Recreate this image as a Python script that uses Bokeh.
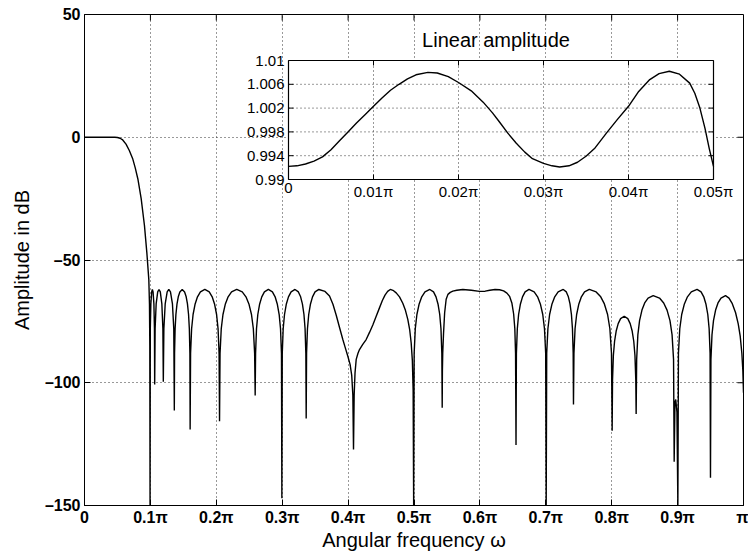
import math
from bokeh.plotting import figure
from bokeh.models import Range1d, FixedTicker, CustomJSTickFormatter
from bokeh.core.properties import value
from bokeh.embed import file_html
from bokeh.resources import INLINE

# ---------------- data: main magnitude response (frequency in units of pi, dB)
freq = [0.0, 0.02, 0.04, 0.046, 0.05, 0.054, 0.058, 0.063, 0.068, 0.0733, 0.077, 0.081, 0.086,
        0.091, 0.0946, 0.0976, 0.0986, 0.0991, 0.0995,
        # lobes near the band edge
        0.09985, 0.10069, 0.10195, 0.1030, 0.10405, 0.10531, 0.10615, 0.1065,
        0.10716, 0.10873, 0.11109, 0.11305, 0.11502, 0.11738, 0.11895, 0.1196,
        0.12044, 0.12244, 0.12545, 0.12795, 0.13046, 0.13346, 0.13547, 0.1363,
        0.13666, 0.1375, 0.1387, 0.14038, 0.1423, 0.1447, 0.1483,
        0.1519, 0.1543, 0.15622, 0.1579, 0.1591, 0.15994, 0.1603,
        0.16097, 0.16253, 0.16476, 0.16788, 0.17145, 0.17591, 0.1826,
        0.18929, 0.19375, 0.19732, 0.20044, 0.20267, 0.20423, 0.2049,
        0.20568, 0.20751, 0.21012, 0.21377, 0.21795, 0.22317, 0.2310,
        0.2394, 0.2450, 0.24948, 0.2534, 0.2562, 0.25816, 0.2590,
        0.2596, 0.2610, 0.2630, 0.2658, 0.2690, 0.2730, 0.2790,
        0.28515, 0.28925, 0.2925, 0.2954, 0.29745, 0.29889, 0.2995,
        0.3001, 0.3015, 0.3035, 0.3063, 0.3095, 0.3135, 0.3195,
        0.32457, 0.32795, 0.33065, 0.33302, 0.33471, 0.33589, 0.3364,
        0.33698, 0.33832, 0.34024, 0.34293, 0.3460, 0.34984, 0.3556,
        0.3650, 0.3718, 0.3770, 0.3820, 0.3870, 0.3920, 0.3960, 0.3996, 0.4030, 0.4055,
        0.4072, 0.4082,
        0.4092, 0.4105, 0.4123, 0.4150, 0.4173, 0.4220, 0.4274, 0.4325, 0.4375, 0.4425,
        0.4476, 0.4520, 0.4560, 0.4600, 0.4640, 0.4690, 0.4730, 0.4780, 0.4830, 0.4870,
        0.4906, 0.4935, 0.4957, 0.4975, 0.4987, 0.4995,
        0.50024, 0.50195, 0.5044, 0.50783, 0.51175, 0.51665, 0.5240,
        0.52964, 0.5334, 0.53641, 0.53904, 0.54092, 0.54224, 0.5428,
        0.5431, 0.5436, 0.5448, 0.5465, 0.5488, 0.5515, 0.5550, 0.5589, 0.5650, 0.5741,
        0.5870, 0.5994, 0.6080, 0.6150, 0.6230, 0.6298, 0.6360, 0.6410, 0.6450, 0.6485,
        0.6512, 0.6530, 0.6541, 0.6548,
        0.65539, 0.65677, 0.65874, 0.6615, 0.66465, 0.66859, 0.6745,
        0.68233, 0.68755, 0.69173, 0.69538, 0.69799, 0.69982, 0.7006,
        0.70138, 0.70319, 0.70578, 0.70941, 0.71355, 0.71873, 0.7265,
        0.73115, 0.73425, 0.73673, 0.7389, 0.74045, 0.74154, 0.7420,
        0.74272, 0.7444, 0.7468, 0.75016, 0.7540, 0.7588, 0.7660,
        0.77641, 0.78335, 0.7889, 0.79376, 0.79723, 0.79966, 0.8007,
        0.80125, 0.80253, 0.80436, 0.80692, 0.80985, 0.81351, 0.8190,
        0.82443, 0.82805, 0.83095, 0.83348, 0.83529, 0.83656, 0.8371,
        0.83788, 0.83969, 0.84228, 0.84591, 0.85005, 0.85523, 0.8630,
        0.87254, 0.8789, 0.88399, 0.88844, 0.89162, 0.89385, 0.8948,
        0.8960, 0.8972, 0.8990, 0.9004,
        0.90127, 0.90331, 0.90622, 0.91029, 0.91495, 0.92077, 0.9295,
        0.93562, 0.9397, 0.94296, 0.94582, 0.94786, 0.94929, 0.9499,
        0.95058, 0.95218, 0.95446, 0.95765, 0.9613, 0.96586, 0.9727,
        0.9780, 0.9830, 0.9880, 0.9920, 0.9950, 0.9975, 0.9990, 1.0]
amp_db = [0.0, 0.0, 0.0, 0.0, -0.1, -0.4, -1.1, -2.8, -5.4, -8.9, -12.5, -17, -25,
          -36, -47, -58, -68, -85, -150,
          -78, -67.9, -63, -62, -63, -67.9, -78, -100.7,
          -78, -67.9, -63, -62, -63, -67.9, -78, -99.6,
          -78, -67.9, -63, -62, -63, -67.9, -78, -111.3,
          -88, -78, -72.2, -67.9, -65, -63, -62,
          -63, -65, -67.9, -72.2, -78, -88, -119.0,
          -88, -78, -72.2, -67.9, -65, -63, -62,
          -63, -65, -67.9, -72.2, -78, -88, -115.7,
          -88, -78, -72.2, -67.9, -65, -63, -62,
          -63, -65, -67.9, -72.2, -78, -88, -105.2,
          -88, -78, -72.2, -67.9, -65, -63, -62,
          -63, -65, -67.9, -72.2, -78, -88, -147,
          -88, -78, -72.2, -67.9, -65, -63, -62,
          -63, -65, -67.9, -72.2, -78, -88, -114.6,
          -88, -78, -72.2, -67.9, -65, -63, -62,
          -62.8, -64.7, -68, -72.5, -77.5, -82.4, -86, -89.2, -92.5, -97,
          -105, -127.2,
          -105, -96, -90.5, -88, -86.5, -84.5, -82.4, -79.5, -76.5, -73,
          -69.5, -66.5, -64.3, -62.8, -62, -62.5, -63.4, -65, -67.6, -70.5,
          -74.2, -78.5, -83.7, -91, -103, -150,
          -88, -78, -72.2, -67.9, -65, -63, -62,
          -63, -65, -67.9, -72.2, -78, -88, -110.2,
          -95, -88, -80, -71.5, -66, -64, -63.2, -62.7, -62.3, -62,
          -62.3, -62.8, -62.7, -62.3, -62.0, -62.1, -62.6, -63.5, -64.8, -67.5,
          -72, -78, -88, -125.4,
          -88, -78, -72.2, -67.9, -65, -63, -62,
          -63, -65, -67.9, -72.2, -78, -88, -150,
          -88, -78, -72.2, -67.9, -65, -63, -62,
          -63, -65, -67.9, -72.2, -78, -88, -108.9,
          -88, -78, -72.2, -67.9, -65, -63, -62,
          -63, -65, -67.9, -72.2, -78, -88, -119.5,
          -98.9, -88.9, -83.1, -78.8, -75.9, -73.9, -72.9,
          -73.9, -75.9, -78.8, -83.1, -88.9, -98.9, -112.7,
          -90.5, -80.5, -74.7, -70.4, -67.5, -65.5, -64.5,
          -65.5, -67.5, -70.4, -74.7, -80.5, -90.5, -132.2,
          -108, -106.8, -112, -150,
          -88, -78, -72.2, -67.9, -65, -63, -62,
          -63, -65, -67.9, -72.2, -78, -88, -138.7,
          -90.5, -80.5, -74.7, -70.4, -67.5, -65.5, -64.5,
          -65.5, -67.8, -71.5, -76, -81, -88, -95, -104.1]

# ---------------- data: passband detail (linear amplitude)
pass_freq = [0.000, 0.001, 0.002, 0.003, 0.004, 0.005, 0.006, 0.007, 0.008, 0.009,
             0.010, 0.011, 0.012, 0.013, 0.014, 0.015, 0.0164, 0.0175, 0.0188, 0.0200,
             0.0215, 0.0229, 0.0240, 0.0248, 0.0258, 0.0268, 0.0278, 0.0287, 0.0300, 0.0310,
             0.0319, 0.0330, 0.0340, 0.0350, 0.0360, 0.0374, 0.0387, 0.0400, 0.0412, 0.0425,
             0.0436, 0.0448, 0.0460, 0.0472, 0.0478, 0.0484, 0.0490, 0.0495, 0.0500]
pass_amp = [0.9922, 0.9923, 0.9926, 0.9931, 0.9938, 0.9950, 0.9965, 0.9980, 0.9995, 1.0009,
            1.0023, 1.0037, 1.0050, 1.0060, 1.0069, 1.0076, 1.0080, 1.0079, 1.0073, 1.0063,
            1.0049, 1.0030, 1.0012, 0.9997, 0.9978, 0.9961, 0.9946, 0.9935, 0.9927, 0.9923,
            0.9921, 0.9923, 0.9929, 0.9939, 0.9952, 0.9978, 1.0001, 1.0023, 1.0048, 1.0068,
            1.0078, 1.0082, 1.0077, 1.0062, 1.0045, 1.0020, 0.9986, 0.9952, 0.9922]

# ---------------- ticks and labels
x_ticks = [0, 0.1, 0.2, 0.3, 0.4, 0.5, 0.6, 0.7, 0.8, 0.9, 1.0]
x_tick_labels = ["0", "0.1π", "0.2π", "0.3π", "0.4π", "0.5π", "0.6π", "0.7π", "0.8π", "0.9π", "π"]
y_ticks = [-150, -100, -50, 0, 50]
y_tick_labels = ["–150", "–100", "–50", "0", "50"]
ix_ticks = [0, 0.01, 0.02, 0.03, 0.04, 0.05]
ix_tick_labels = ["0", "0.01π", "0.02π", "0.03π", "0.04π", "0.05π"]
iy_ticks = [0.99, 0.994, 0.998, 1.002, 1.006, 1.01]
iy_tick_labels = ["0.99", "0.994", "0.998", "1.002", "1.006", "1.01"]

# ---------------- layout constants (figure pixels)
FONT = "Liberation Sans"
W, H = 748, 557
BL, BR, BT = 84, 5, 14
FRAME_W, FRAME_H = 659, 491
BB = H - BT - FRAME_H
FL, FR, FT, FB = BL, BL + FRAME_W, BT, BT + FRAME_H
IL, IR, IT, IB = 288, 713, 60, 179                            # inset box

X0, X1 = 0.0, 1.0
Y0, Y1 = -150.0, 50.0
p = figure(width=W, height=H, output_backend="svg", toolbar_location=None,
           x_range=Range1d(X0, X1), y_range=Range1d(Y0, Y1),
           min_border_left=BL, min_border_right=BR, min_border_top=BT, min_border_bottom=BB)
p.background_fill_color = "white"
p.border_fill_color = "white"
p.outline_line_color = "black"
p.outline_line_alpha = 1.0
p.outline_line_width = 1

JS = "const i = tk.findIndex(t => Math.abs(t - tick) < 1e-9); return i >= 0 ? lb[i] : '';"
fmt_x = CustomJSTickFormatter(args=dict(tk=x_ticks, lb=x_tick_labels), code=JS)
fmt_y = CustomJSTickFormatter(args=dict(tk=y_ticks, lb=y_tick_labels), code=JS)

for ax, tks, fm in ((p.xaxis[0], x_ticks, fmt_x), (p.yaxis[0], y_ticks, fmt_y)):
    ax.ticker = FixedTicker(ticks=tks)
    ax.formatter = fm
    ax.major_tick_in = 6
    ax.major_tick_out = 0
    ax.minor_tick_in = 0
    ax.minor_tick_out = 0
    ax.axis_line_color = "black"
    ax.major_tick_line_color = "black"
    ax.major_label_text_font = FONT
    ax.major_label_text_font_size = "16px"
    ax.major_label_text_font_style = "bold"
    ax.major_label_text_color = "black"
    ax.axis_label_text_font = FONT
    ax.axis_label_text_font_size = "20px"
    ax.axis_label_text_font_style = "normal"
    ax.axis_label_text_color = "black"

p.xaxis.axis_label = "Angular frequency ω"
p.yaxis.axis_label = "Amplitude in dB"
p.xaxis.major_label_standoff = 3
p.xaxis.axis_label_standoff = 0
p.yaxis.major_label_standoff = 4
p.yaxis.axis_label_standoff = 9

p.xgrid.ticker = FixedTicker(ticks=x_ticks)
p.ygrid.ticker = FixedTicker(ticks=y_ticks)
for g in (p.xgrid[0], p.ygrid[0]):
    g.grid_line_color = "#333333"
    g.grid_line_dash = "1 3"
    g.grid_line_width = 1

# ticks on top and right edges of the main box
p.ray(x=x_ticks[1:-1], y=[Y1] * (len(x_ticks) - 2), length=6, length_units="screen",
      angle=-math.pi / 2, line_color="black", line_width=1)
p.ray(x=[X1] * (len(y_ticks) - 2), y=y_ticks[1:-1], length=6, length_units="screen",
      angle=math.pi, line_color="black", line_width=1)

p.line(freq, amp_db, line_color="black", line_width=1.4)

# ---------------- inset drawn on extra ranges mapped onto the inset box
ix0, ix1 = 0.0, 0.05
iy0, iy1 = 0.99, 1.01
sx = (ix1 - ix0) / (IR - IL)
sy = (iy1 - iy0) / (IB - IT)
p.extra_x_ranges = {"ix": Range1d(ix0 - (IL - FL) * sx, ix1 + (FR - IR) * sx)}
p.extra_y_ranges = {"iy": Range1d(iy0 - (FB - IB) * sy, iy1 + (IT - FT) * sy)}
R = dict(x_range_name="ix", y_range_name="iy")

p.quad(left=[ix0], right=[ix1], bottom=[iy0], top=[iy1], fill_color="white",
       line_color=None, **R)
p.segment(x0=ix_ticks[1:-1], y0=[iy0] * 4, x1=ix_ticks[1:-1], y1=[iy1] * 4,
          line_color="#333333", line_dash="1 3", line_width=1, **R)
p.segment(x0=[ix0] * 4, y0=iy_ticks[1:-1], x1=[ix1] * 4, y1=iy_ticks[1:-1],
          line_color="#333333", line_dash="1 3", line_width=1, **R)
p.ray(x=ix_ticks[1:-1], y=[iy0] * 4, length=5, length_units="screen", angle=math.pi / 2,
      line_color="black", **R)
p.ray(x=ix_ticks[1:-1], y=[iy1] * 4, length=5, length_units="screen", angle=-math.pi / 2,
      line_color="black", **R)
p.ray(x=[ix0] * 4, y=iy_ticks[1:-1], length=5, length_units="screen", angle=0,
      line_color="black", **R)
p.ray(x=[ix1] * 4, y=iy_ticks[1:-1], length=5, length_units="screen", angle=math.pi,
      line_color="black", **R)
p.line(pass_freq, pass_amp, line_color="black", line_width=1.4, **R)
p.quad(left=[ix0], right=[ix1], bottom=[iy0], top=[iy1], fill_color=None,
       line_color="black", line_width=1.2, **R)

p.text(x=ix_ticks, y=[iy0] * len(ix_ticks), text=ix_tick_labels, text_align="center",
       text_baseline="top", y_offset=3, text_font=value(FONT), text_font_size=value("15px"),
       text_color="black", **R)
p.text(x=[ix0] * len(iy_ticks), y=iy_ticks, text=iy_tick_labels, text_align="right",
       text_baseline="middle", x_offset=-4, text_font=value(FONT), text_font_size=value("15px"),
       text_color="black", **R)
p.text(x=[(ix0 + ix1) / 2], y=[iy1], text=["Linear amplitude"], text_align="center",
       text_baseline="alphabetic", y_offset=-21, x_offset=-5, text_font=value(FONT),
       text_font_size=value("20px"), text_color="black", **R)

open("out.html", "w").write(file_html(p, INLINE))
